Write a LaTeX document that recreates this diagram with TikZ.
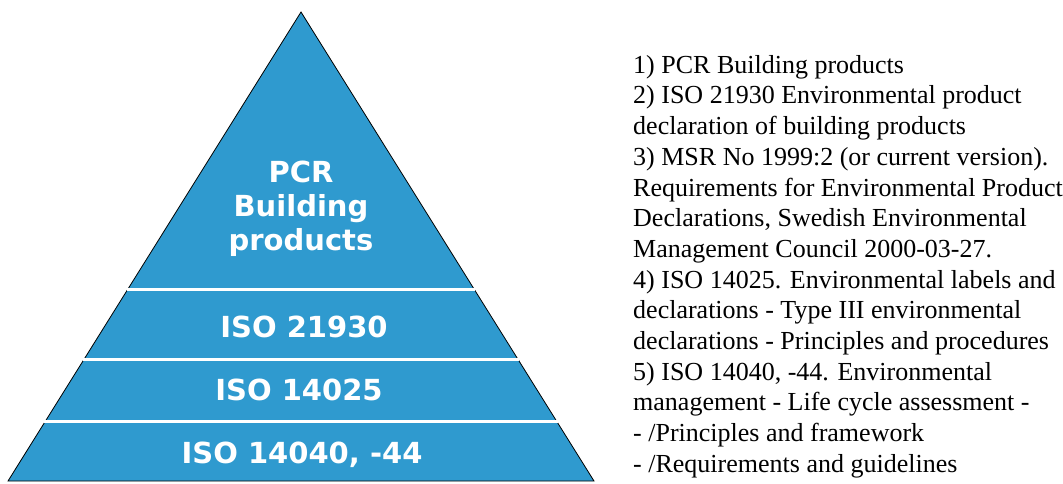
\documentclass[tikz,border=0pt]{standalone}
\usepackage{fontspec}
\setmainfont{Liberation Serif}
\newfontfamily\layerfont{DejaVu Sans}
\usetikzlibrary{calc}

\definecolor{pyrblue}{RGB}{47,154,207}

\tikzset{
  layer/.style={text=white, font=\layerfont\bfseries\fontsize{29}{34}\selectfont,
                inner sep=0pt, align=center},
  notes/.style={font=\fontsize{26}{30.7}\selectfont, inner sep=0pt, align=left,
                anchor=north west}
}

\begin{document}
\begin{tikzpicture}[x=1pt,y=-1pt]
   \useasboundingbox (0,0) rectangle (1063,483);
   \coordinate (apex) at (301,12);
   \coordinate (bl) at (8,481);
   \coordinate (br) at (594,481);
   % pyramid
   \filldraw[fill=pyrblue, draw=black, line width=0.8pt] (apex) -- (bl) -- (br) -- cycle;
   % white gaps between the layers
   \foreach \f/\n in {0.5906/a, 0.7399/b, 0.8721/c} {
     \coordinate (l\n) at ($(apex)!\f!(bl)$);
     \coordinate (r\n) at ($(apex)!\f!(br)$);
     \draw[white, line width=3pt] ($(l\n)+(-1,0)$) -- ($(r\n)+(1,0)$);
   }
   \node[layer] (pcr) at (301,208.7) {PCR\\Building\\products};
   \node[layer, anchor=base] (iso21930) at (304,337) {ISO 21930};
   \node[layer, anchor=base] (iso14025) at (299,400) {ISO 14025};
   \node[layer, anchor=base] (iso14040) at (302,463) {ISO 14040, -44};
   % list of standards
   \node[notes] (list) at (633,55) {1) PCR Building products\\
     2) ISO 21930 Environmental product\\
     declaration of building products\\
     3) MSR No 1999:2 (or current version).\\
     Requirements for Environmental Product\\
     Declarations, Swedish Environmental\\
     Management Council 2000-03-27.\\
     4) ISO 14025. Environmental labels and\\
     declarations - Type III environmental\\
     declarations - Principles and procedures\\
     5) ISO 14040, -44. Environmental\\
     management - Life cycle assessment -\\
     - /Principles and framework\\
     - /Requirements and guidelines};
\end{tikzpicture}
\end{document}
